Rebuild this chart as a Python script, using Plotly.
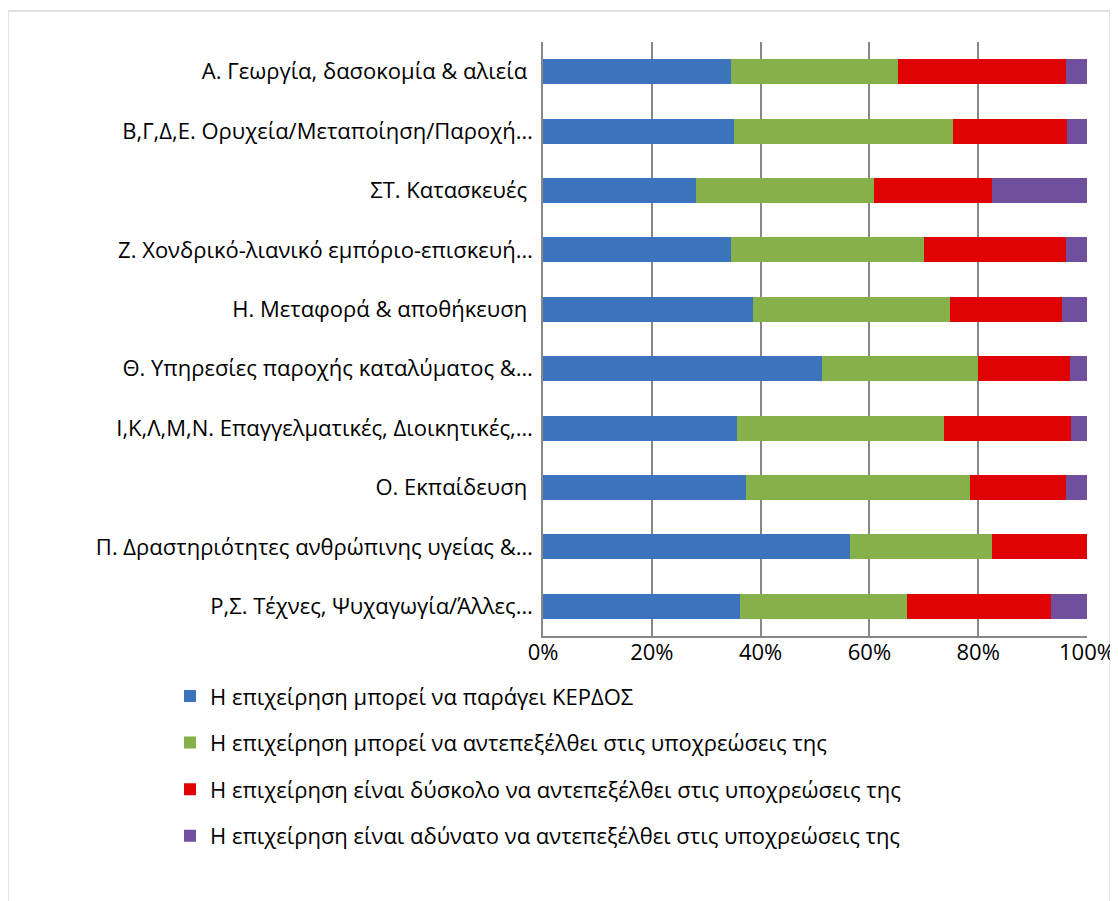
import plotly.graph_objects as go

categories = [
    "Α. Γεωργία, δασοκομία & αλιεία ",
    "Β,Γ,Δ,Ε. Ορυχεία/Μεταποίηση/Παροχή…",
    "ΣΤ. Κατασκευές ",
    "Ζ. Χονδρικό-λιανικό εμπόριο-επισκευή…",
    "Η. Μεταφορά & αποθήκευση ",
    "Θ. Υπηρεσίες παροχής καταλύματος &…",
    "Ι,Κ,Λ,Μ,Ν. Επαγγελματικές, Διοικητικές,…",
    "Ο. Εκπαίδευση ",
    "Π. Δραστηριότητες ανθρώπινης υγείας &…",
    "Ρ,Σ. Τέχνες, Ψυχαγωγία/Άλλες…",
]

series_names = [
    "Η επιχείρηση μπορεί να παράγει ΚΕΡΔΟΣ",
    "Η επιχείρηση μπορεί να αντεπεξέλθει στις υποχρεώσεις της",
    "Η επιχείρηση είναι δύσκολο να αντεπεξέλθει στις υποχρεώσεις της",
    "Η επιχείρηση είναι αδύνατο να αντεπεξέλθει στις υποχρεώσεις της",
]

profit =     [34.6, 35.1, 28.1, 34.6, 38.6, 51.2, 35.6, 37.3, 56.5, 36.2]
cope =       [30.7, 40.2, 32.7, 35.5, 36.3, 28.7, 38.2, 41.1, 26.0, 30.8]
difficult =  [30.8, 21.1, 21.7, 26.0, 20.5, 17.0, 23.2, 17.8, 17.5, 26.3]
impossible = [3.9, 3.6, 17.5, 3.9, 4.6, 3.1, 3.0, 3.8, 0.0, 6.7]

colors = ["#3B73BD", "#86B14A", "#E00303", "#70509E"]

fig = go.Figure()
for name, vals, col in zip(series_names, [profit, cope, difficult, impossible], colors):
    fig.add_trace(go.Bar(
        y=categories, x=vals, name=name, orientation="h",
        marker=dict(color=col, line=dict(width=0)),
        legendgroup=name,
    ))

font_family = "Open Sans, Noto Sans, sans-serif"
FS = 22

# plot area (inside the figure div): left 535, top 34, 544 x 594
L, T, W, H = 535, 34, 544, 594

fig.update_layout(
    width=1118, height=901,
    barmode="stack", barnorm="percent",
    bargap=0.58,
    paper_bgcolor="white", plot_bgcolor="white",
    margin=dict(l=L, r=1118 - L - W, t=T, b=901 - T - H),
    font=dict(family=font_family, size=FS, color="#000000"),
    showlegend=True,
    legend=dict(
        orientation="v", x=(170 - 8 - L) / W, xanchor="left",
        y=-0.066, yanchor="top",
        traceorder="grouped", tracegroupgap=15,
        font=dict(size=FS, family=font_family),
        itemwidth=30,
    ),
    shapes=[dict(
        type="rect", xref="paper", yref="paper",
        x0=(0 - L) / W, x1=(1102 - L) / W,
        y0=(T + H - 905) / H, y1=(T + H - 3) / H,
        line=dict(color="#D9D9D9", width=1.5), fillcolor="rgba(0,0,0,0)",
        layer="below",
    )],
)

fig.update_xaxes(
    range=[0, 100], tickvals=[0, 20, 40, 60, 80, 100],
    ticktext=["0%", "20%", "40%", "60%", "80%", "100%"],
    showgrid=True, gridcolor="#878787", gridwidth=1.5,
    showline=True, linecolor="#878787", linewidth=1.5,
    zeroline=False, ticks="", tickfont=dict(size=FS),
    ticklabelstandoff=-4,
    fixedrange=True,
)
fig.update_yaxes(
    autorange="reversed",
    showline=True, linecolor="#878787", linewidth=1.5,
    ticks="", ticklabelstandoff=4, tickfont=dict(size=FS),
    fixedrange=True,
)

fig.write_html("out.html")
